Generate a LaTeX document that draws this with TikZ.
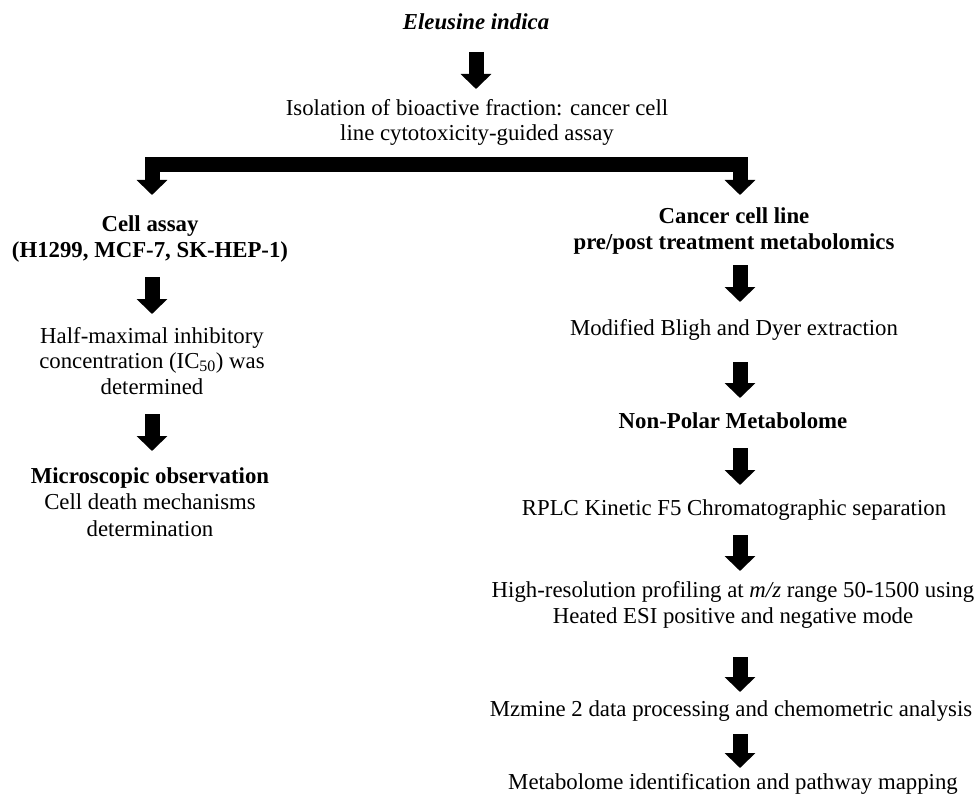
\documentclass[tikz,border=0pt]{standalone}
\usepackage{fontspec}
\setmainfont{Liberation Serif}
\usetikzlibrary{arrows.meta}
\begin{document}
\begin{tikzpicture}[x=1pt,y=-1pt,
  txt/.style={font=\fontsize{22.8}{25.5}\selectfont, align=center, inner sep=0pt, anchor=base},
  hd/.style={txt, font=\fontsize{22.8}{26.5}\selectfont\bfseries},
  bigarrow/.style={line width=15pt, -{Triangle[width=30pt,length=15pt]}},
  bararrow/.style={line width=15pt, miter limit=10, {Triangle[width=30pt,length=15pt]}-{Triangle[width=30pt,length=15pt]}},
]
\useasboundingbox (0,0) rectangle (976,794);
\clip (0,0) rectangle (976,794);

% texts (anchor base = baseline of the last line)
\node[txt, font=\fontsize{22.8}{25.5}\selectfont\bfseries\itshape] (title) at (476,30) {Eleusine indica};
\node[txt] (iso) at (477,141) {Isolation of bioactive fraction: cancer cell\\line cytotoxicity-guided assay};

\node[hd] (cell) at (150,258) {Cell assay\\(H1299, MCF-7, SK-HEP-1)};
\node[txt] (ic) at (152,394) {Half-maximal inhibitory\\concentration (IC\textsubscript{50}) was\\determined};
\node[txt, font=\fontsize{22.8}{26.5}\selectfont] (mic) at (150,536) {\textbf{Microscopic observation}\\Cell death mechanisms\\determination};

\node[hd] (can) at (734,250) {Cancer cell line\\pre/post treatment metabolomics};
\node[txt] (bligh) at (734,335) {Modified Bligh and Dyer extraction};
\node[hd] (np) at (733,428) {Non-Polar Metabolome};
\node[txt] (rplc) at (734,515) {RPLC Kinetic F5 Chromatographic separation};
\node[txt] (hres) at (733,623) {High-resolution profiling at \textit{m/z} range 50-1500 using\\Heated ESI positive and negative mode};
\node[txt] (mz) at (731,716) {Mzmine 2 data processing and chemometric analysis};
\node[txt] (meta) at (733,789) {Metabolome identification and pathway mapping};

% arrow end points
\coordinate (a0s) at (476,52);  \coordinate (a0e) at (476,89);
\coordinate (bl) at (152,195);  \coordinate (blc) at (152,164.5);
\coordinate (brc) at (740,164.5); \coordinate (br) at (740,195);
\coordinate (l1s) at (152,277); \coordinate (l1e) at (152,314);
\coordinate (l2s) at (152,414); \coordinate (l2e) at (152,451);
\coordinate (r1s) at (740,265); \coordinate (r1e) at (740,302);
\coordinate (r2s) at (740,362); \coordinate (r2e) at (740,398);
\coordinate (r3s) at (740,448); \coordinate (r3e) at (740,485);
\coordinate (r4s) at (740,535); \coordinate (r4e) at (740,571);
\coordinate (r5s) at (740,657); \coordinate (r5e) at (740,692);
\coordinate (r6s) at (740,734); \coordinate (r6e) at (740,768);

\draw[bigarrow] (a0s) -- (a0e);
\draw[bararrow] (bl) -- (blc) -- (brc) -- (br);
\draw[bigarrow] (l1s) -- (l1e);
\draw[bigarrow] (l2s) -- (l2e);
\draw[bigarrow] (r1s) -- (r1e);
\draw[bigarrow] (r2s) -- (r2e);
\draw[bigarrow] (r3s) -- (r3e);
\draw[bigarrow] (r4s) -- (r4e);
\draw[bigarrow] (r5s) -- (r5e);
\draw[bigarrow] (r6s) -- (r6e);
\end{tikzpicture}
\end{document}
